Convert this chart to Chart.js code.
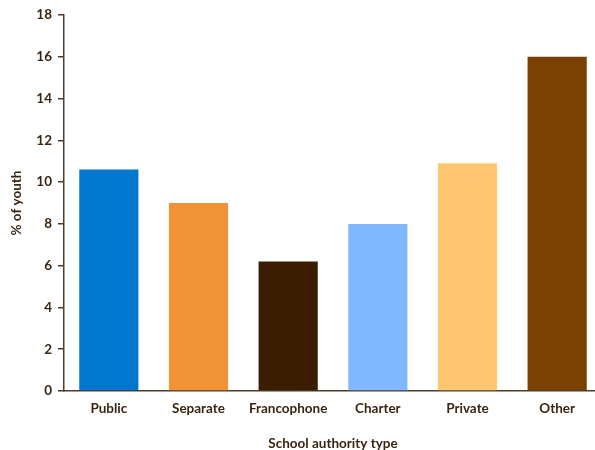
<!DOCTYPE html>
<html>
<head>
<meta charset="utf-8">
<script src="https://cdn.jsdelivr.net/npm/chart.js@4"></script>
<style>
  body { margin: 0; background: #fff; overflow: hidden; }
  #wrap { width: 602px; height: 450px; }
</style>
</head>
<body>
<div id="wrap"><canvas id="myChart"></canvas></div>
<script>
const schoolTypes = ['Public', 'Separate', 'Francophone', 'Charter', 'Private', 'Other'];
const youthPct = [10.6, 9.0, 6.2, 8.0, 10.9, 16.0];
const barColours = ['#0078D0', '#F09235', '#3B1E02', '#80B8FF', '#FFC670', '#7A4100'];

const textColour = '#3A2510';
const axisColour = '#4D3B2B';

Chart.defaults.font.family = 'Lato, "Open Sans", sans-serif';
Chart.defaults.font.weight = 'bold';
Chart.defaults.color = textColour;

const ctx = document.getElementById('myChart').getContext('2d');

const barChart = new Chart(ctx, {
    type: 'bar',
    data: {
        labels: schoolTypes,
        datasets: [{
            data: youthPct,
            backgroundColor: barColours,
            borderWidth: 0,
            barPercentage: 0.66,
            categoryPercentage: 1,
        }],
    },
    options: {
        responsive: true,
        maintainAspectRatio: false,
        animation: false,
        layout: { padding: { top: 15, left: 0, right: 0, bottom: 0 } },
        plugins: {
            legend: { display: false },
            tooltip: { enabled: false },
        },
        scales: {
            x: {
                grid: { display: false, drawTicks: false },
                border: { display: true, color: axisColour, width: 1.5 },
                ticks: { padding: 10, font: { size: 13.5, weight: 'bold' } },
                title: {
                    display: true,
                    text: 'School authority type',
                    font: { size: 13.5, weight: 'bold' },
                    padding: { top: 0, bottom: -2 },
                },
                afterFit: (scale) => { scale.height = 59; },
            },
            y: {
                min: 0,
                max: 18,
                ticks: { stepSize: 2, padding: 6, font: { size: 13.5, weight: 'bold' } },
                grid: { drawOnChartArea: false, drawTicks: true, tickLength: 6, color: axisColour, lineWidth: 1.5 },
                border: { display: true, color: axisColour, width: 1.5 },
                title: {
                    display: true,
                    text: '% of youth',
                    font: { size: 13.5, weight: 'bold' },
                    padding: { top: 9, bottom: 0 },
                },
                afterFit: (scale) => { scale.width = 64; },
            },
        },
    },
});
</script>
</body>
</html>
